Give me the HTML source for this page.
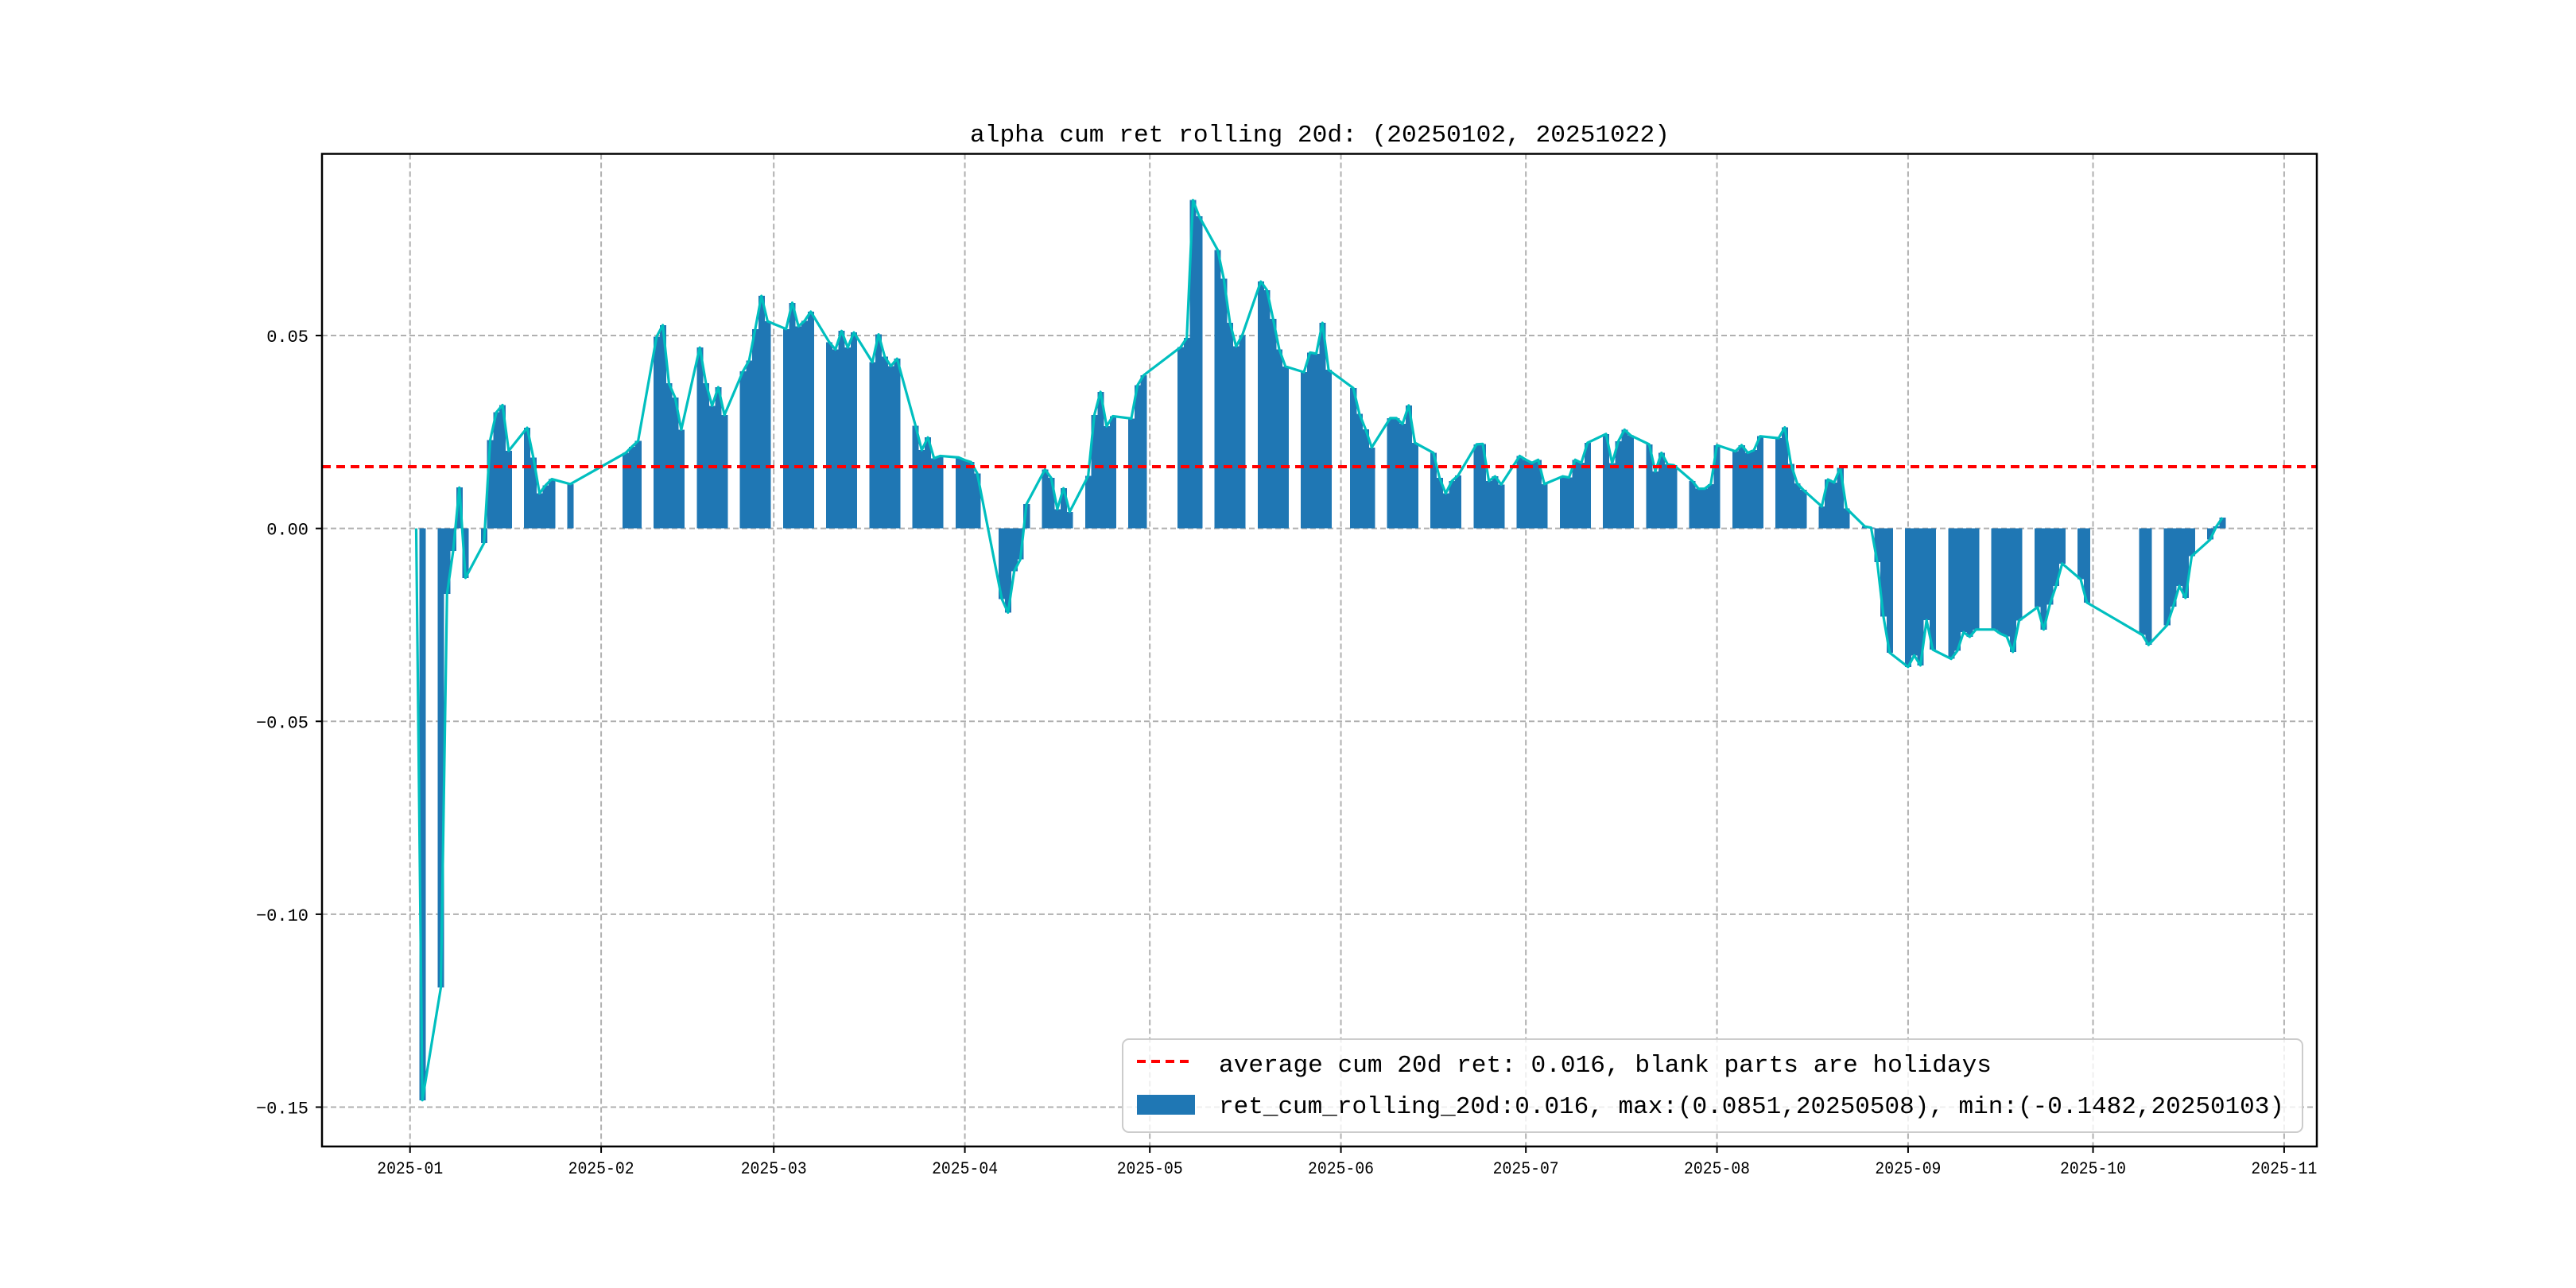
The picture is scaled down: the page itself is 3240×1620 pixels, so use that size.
<!DOCTYPE html>
<html><head><meta charset="utf-8"><style>html,body{margin:0;padding:0;background:#fff;}svg{display:block;}text{font-family:"Liberation Mono","Noto Sans CJK SC",monospace;fill:#000;}</style></head>
<body>
<svg id="chart" width="3240" height="1620" viewBox="0 0 3240 1620" xmlns="http://www.w3.org/2000/svg">
<rect x="0" y="0" width="3240" height="1620" fill="#fff"/>
<text x="1660" y="178" text-anchor="middle" font-size="31" textLength="880" lengthAdjust="spacingAndGlyphs">alpha cum ret rolling 20d: (20250102, 20251022)</text>
<g id="grid"></g>
<g id="bars" shape-rendering="crispEdges"></g>
<g id="lines"></g>
<rect x="405" y="193.5" width="2509" height="1248.5" fill="none" stroke="#000" stroke-width="2.5"/>
<g id="ticks"></g>
<g id="legend">
<rect x="1412" y="1307" width="1484" height="117" rx="8" fill="#fff" fill-opacity="0.8" stroke="#cccccc" stroke-width="2"/>
<line x1="1430" y1="1335" x2="1502" y2="1335" stroke="#ff0000" stroke-width="4" stroke-dasharray="11,7"/>
<text x="1533" y="1348" font-size="31" textLength="972" lengthAdjust="spacingAndGlyphs">average cum 20d ret: 0.016, blank parts are holidays</text>
<rect x="1430" y="1377" width="73" height="25" fill="#1f77b4"/>
<text x="1533" y="1400" font-size="31" textLength="1340" lengthAdjust="spacingAndGlyphs">ret_cum_rolling_20d:0.016, max:(0.0851,20250508), min:(-0.1482,20250103)</text>
</g>
</svg>
<script>
const dates = ["2025-01-02","2025-01-03","2025-01-06","2025-01-07","2025-01-08","2025-01-09","2025-01-10","2025-01-13","2025-01-14","2025-01-15","2025-01-16","2025-01-17","2025-01-20","2025-01-21","2025-01-22","2025-01-23","2025-01-24","2025-01-27",
"2025-02-05","2025-02-06","2025-02-07","2025-02-10","2025-02-11","2025-02-12","2025-02-13","2025-02-14","2025-02-17","2025-02-18","2025-02-19","2025-02-20","2025-02-21","2025-02-24","2025-02-25","2025-02-26","2025-02-27","2025-02-28",
"2025-03-03","2025-03-04","2025-03-05","2025-03-06","2025-03-07","2025-03-10","2025-03-11","2025-03-12","2025-03-13","2025-03-14","2025-03-17","2025-03-18","2025-03-19","2025-03-20","2025-03-21","2025-03-24","2025-03-25","2025-03-26","2025-03-27","2025-03-28","2025-03-31",
"2025-04-01","2025-04-02","2025-04-03","2025-04-07","2025-04-08","2025-04-09","2025-04-10","2025-04-11","2025-04-14","2025-04-15","2025-04-16","2025-04-17","2025-04-18","2025-04-21","2025-04-22","2025-04-23","2025-04-24","2025-04-25","2025-04-28","2025-04-29","2025-04-30",
"2025-05-06","2025-05-07","2025-05-08","2025-05-09","2025-05-12","2025-05-13","2025-05-14","2025-05-15","2025-05-16","2025-05-19","2025-05-20","2025-05-21","2025-05-22","2025-05-23","2025-05-26","2025-05-27","2025-05-28","2025-05-29","2025-05-30",
"2025-06-03","2025-06-04","2025-06-05","2025-06-06","2025-06-09","2025-06-10","2025-06-11","2025-06-12","2025-06-13","2025-06-16","2025-06-17","2025-06-18","2025-06-19","2025-06-20","2025-06-23","2025-06-24","2025-06-25","2025-06-26","2025-06-27","2025-06-30",
"2025-07-01","2025-07-02","2025-07-03","2025-07-04","2025-07-07","2025-07-08","2025-07-09","2025-07-10","2025-07-11","2025-07-14","2025-07-15","2025-07-16","2025-07-17","2025-07-18","2025-07-21","2025-07-22","2025-07-23","2025-07-24","2025-07-25","2025-07-28","2025-07-29","2025-07-30","2025-07-31",
"2025-08-01","2025-08-04","2025-08-05","2025-08-06","2025-08-07","2025-08-08","2025-08-11","2025-08-12","2025-08-13","2025-08-14","2025-08-15","2025-08-18","2025-08-19","2025-08-20","2025-08-21","2025-08-22","2025-08-25","2025-08-26","2025-08-27","2025-08-28","2025-08-29",
"2025-09-01","2025-09-02","2025-09-03","2025-09-04","2025-09-05","2025-09-08","2025-09-09","2025-09-10","2025-09-11","2025-09-12","2025-09-15","2025-09-16","2025-09-17","2025-09-18","2025-09-19","2025-09-22","2025-09-23","2025-09-24","2025-09-25","2025-09-26","2025-09-29","2025-09-30",
"2025-10-09","2025-10-10","2025-10-13","2025-10-14","2025-10-15","2025-10-16","2025-10-17","2025-10-20","2025-10-21","2025-10-22"];
const values = [0.0,-0.1482,-0.119,-0.017,-0.0058,0.0106,-0.0128,-0.0038,0.0229,0.0301,0.0320,0.0201,0.0261,0.0184,0.0091,0.0112,0.0128,0.0115,
0.0196,0.0212,0.0227,0.0497,0.0527,0.0376,0.0339,0.0256,0.0469,0.0376,0.0318,0.0366,0.0294,0.0407,0.0435,0.0517,0.0603,0.0537,
0.0517,0.0585,0.0524,0.0538,0.0562,0.0483,0.0464,0.0512,0.0469,0.0508,0.0431,0.0503,0.0445,0.0421,0.0440,0.0266,0.0203,0.0236,0.0182,0.0188,0.0184,
0.0177,0.0172,0.0143,-0.0183,-0.0218,-0.0111,-0.0080,0.0063,0.0153,0.0131,0.0050,0.0104,0.0043,0.0136,0.0294,0.0354,0.0265,0.0291,0.0285,0.0371,0.0397,
0.0470,0.0494,0.0851,0.0809,0.0722,0.0647,0.0533,0.0472,0.0501,0.0640,0.0618,0.0543,0.0464,0.0420,0.0405,0.0456,0.0453,0.0533,0.0411,
0.0364,0.0297,0.0257,0.0210,0.0286,0.0286,0.0271,0.0319,0.0222,0.0196,0.0131,0.0091,0.0123,0.0137,0.0218,0.0219,0.0123,0.0135,0.0114,0.0188,
0.0178,0.0170,0.0178,0.0115,0.0135,0.0132,0.0178,0.0170,0.0222,0.0245,0.0169,0.0226,0.0256,0.0241,0.0218,0.0148,0.0196,0.0166,0.0164,0.0123,0.0103,0.0103,0.0115,
0.0216,0.0200,0.0216,0.0196,0.0203,0.0239,0.0234,0.0262,0.0167,0.0117,0.0100,0.0057,0.0127,0.0119,0.0157,0.0052,0.0005,0.0002,-0.0087,-0.0228,-0.0322,
-0.0359,-0.0329,-0.0355,-0.0238,-0.0314,-0.0338,-0.0317,-0.0269,-0.0281,-0.0262,-0.0262,-0.0273,-0.0280,-0.0320,-0.0239,-0.0204,-0.0262,-0.0197,-0.0149,-0.0091,-0.0132,-0.0192,
-0.0276,-0.0302,-0.0251,-0.0203,-0.0149,-0.0180,-0.0072,-0.0029,0.0005,0.0028];
const averageValue = 0.016;
const yTicks = [-0.15,-0.10,-0.05,0.00,0.05];
const yTickLabels = ["\u22120.15","\u22120.10","\u22120.05","0.00","0.05"];
const xTicks = ["2025-01-01","2025-02-01","2025-03-01","2025-04-01","2025-05-01","2025-06-01","2025-07-01","2025-08-01","2025-09-01","2025-10-01","2025-11-01"];
const xTickLabels = ["2025-01","2025-02","2025-03","2025-04","2025-05","2025-06","2025-07","2025-08","2025-09","2025-10","2025-11"];

const NS = "http://www.w3.org/2000/svg";
const PL = 405, PR = 2914, PT = 193.5, PB = 1442;
const D0 = -14.28, D1 = 309.3, V0 = -0.1602, V1 = 0.0971;
function dayOf(s){ return (Date.parse(s+"T00:00:00Z") - Date.parse("2025-01-01T00:00:00Z"))/86400000; }
function xScale(s){ return PL + (dayOf(s)-D0)/(D1-D0)*(PR-PL); }
function yScale(v){ return PB - (v-V0)/(V1-V0)*(PB-PT); }
const dayW = (PR-PL)/(D1-D0);
function mk(tag, attrs, parent){ const e=document.createElementNS(NS,tag); for(const k in attrs) e.setAttribute(k,attrs[k]); parent.appendChild(e); return e; }

const grid = document.getElementById('grid');
xTicks.forEach((d,i)=>{
  const x = xScale(d);
  const g = mk('line',{x1:x,y1:PT,x2:x,y2:PB,stroke:'#b0b0b0','stroke-width':2,'stroke-dasharray':'7,4'},grid);
  
  
});
yTicks.forEach((v,i)=>{
  const y = yScale(v);
  const g = mk('line',{x1:PL,y1:y,x2:PR,y2:y,stroke:'#b0b0b0','stroke-width':2,'stroke-dasharray':'7,4'},grid);
  
  
});

const bars = document.getElementById('bars');
const y0 = yScale(0);
dates.forEach((d,i)=>{
  const x = xScale(d), y = yScale(values[i]);
  const r = mk('rect',{x:x-dayW*0.5,y:Math.min(y,y0),width:dayW*1.04,height:Math.max(Math.abs(y-y0),0.01),fill:'#1f77b4'},bars);
  
  
});

const lines = document.getElementById('lines');
const pts = dates.map((d,i)=>xScale(d).toFixed(2)+','+yScale(values[i]).toFixed(2)).join(' ');
const pl = mk('polyline',{points:pts,fill:'none',stroke:'#00bfbf','stroke-width':3.2,'stroke-linejoin':'round'},lines);


const ay = yScale(averageValue);
const avg = mk('line',{x1:PL,y1:ay,x2:PR,y2:ay,stroke:'#ff0000','stroke-width':4,'stroke-dasharray':'11,7'},lines);



const ticks = document.getElementById('ticks');
xTicks.forEach((d,i)=>{
  const x = xScale(d);
  const t = mk('line',{x1:x,y1:PB,x2:x,y2:PB+8,stroke:'#000','stroke-width':2},ticks);
  
  
  const l = mk('text',{x:x,y:PB+34,'text-anchor':'middle','font-size':22,textLength:83,lengthAdjust:'spacingAndGlyphs'},ticks);
  l.textContent = xTickLabels[i];
  
  
});
yTicks.forEach((v,i)=>{
  const y = yScale(v);
  const t = mk('line',{x1:PL-8,y1:y,x2:PL,y2:y,stroke:'#000','stroke-width':2},ticks);
  
  
  const l = mk('text',{x:PL-17,y:y+8,'text-anchor':'end','font-size':22},ticks);
  l.textContent = yTickLabels[i];
  
  
});
</script>
</body></html>
